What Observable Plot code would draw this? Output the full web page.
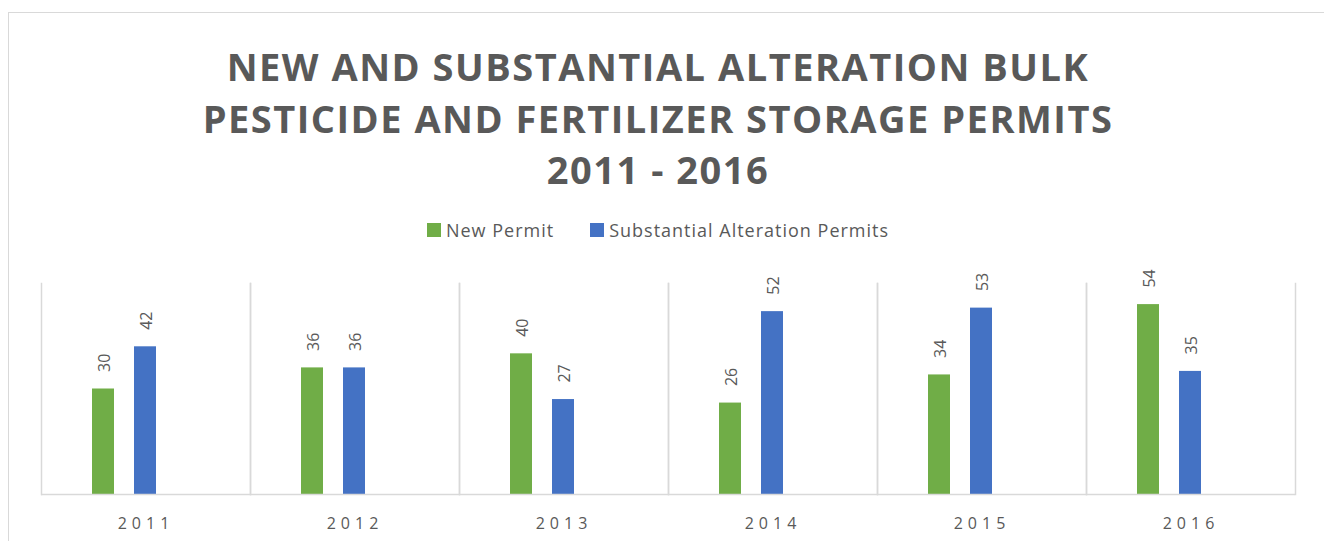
<!DOCTYPE html>
<html>
<head>
<meta charset="utf-8">
<script src="https://cdn.jsdelivr.net/npm/d3@7"></script>
<script src="https://cdn.jsdelivr.net/npm/@observablehq/plot@0.6"></script>
<style>
  html, body { margin: 0; padding: 0; background: #fff; overflow: hidden; width: 1324px; height: 541px; }
  body { position: relative; font-family: "Open Sans", sans-serif; color: #595959; }
  #border { position: absolute; left: 8px; top: 12px; width: 2000px; height: 1000px;
            border-top: 1px solid #d9d9d9; border-left: 1px solid #d9d9d9; }
  #title { position: absolute; left: 0; top: 41px; width: 1316px; text-align: center;
           font-weight: 700; font-size: 38px; line-height: 51.5px; letter-spacing: 1.5px; color: #595959; }
  #legend { position: absolute; left: 0; top: 218px; width: 1316px; display: flex; justify-content: center;
            font-size: 18px; line-height: 24px; letter-spacing: 1px; color: #595959; }
  .item { display: flex; align-items: center; margin: 0 18px; }
  .sw { width: 14px; height: 14px; margin-right: 5px; }
  #chart { position: absolute; left: 0; top: 250px; }
</style>
</head>
<body>
<div id="border"></div>
<div id="title"></div>
<div id="legend"></div>
<div id="chart"></div>
<script>
const titleLines = ["NEW AND SUBSTANTIAL ALTERATION BULK", "PESTICIDE AND FERTILIZER STORAGE PERMITS", "2011 - 2016"];
const years = ["2011", "2012", "2013", "2014", "2015", "2016"];
const seriesNames = ["New Permit", "Substantial Alteration Permits"];
const newPermit = [30, 36, 40, 26, 34, 54];
const substantialAlteration = [42, 36, 27, 52, 53, 35];
const seriesColors = ["#70ad47", "#4472c4"];

document.getElementById("title").innerHTML = titleLines.join("<br>");
const legend = document.getElementById("legend");
seriesNames.forEach((s, i) => {
  const it = document.createElement("div");
  it.className = "item";
  it.innerHTML = `<span class="sw" style="background:${seriesColors[i]}"></span><span>${s}</span>`;
  legend.appendChild(it);
});

const rows = [];
years.forEach((y, i) => {
  rows.push({year: y, series: seriesNames[0], value: newPermit[i]});
  rows.push({year: y, series: seriesNames[1], value: substantialAlteration[i]});
});

const grid = "#d9d9d9";
const svg = Plot.plot({
  width: 1324,
  height: 291,
  marginLeft: 38,
  marginRight: 27,
  marginTop: 33,
  marginBottom: 47,
  style: {fontFamily: "Open Sans", color: "#595959", background: "transparent"},
  fx: {domain: years, padding: 0, label: null},
  x: {domain: [...seriesNames, "(gap)"], paddingInner: 0.465, paddingOuter: 1.174, axis: null},
  y: {domain: [0, 60], axis: null},
  color: {domain: seriesNames, range: seriesColors},
  marks: [
    Plot.frame({anchor: "left", stroke: grid, strokeWidth: 1.5}),
    Plot.frame({anchor: "right", stroke: grid, strokeWidth: 1.5}),
    Plot.barY(rows, {fx: "year", x: "series", y: "value", fill: "series"}),
    Plot.ruleY([0], {stroke: grid, strokeWidth: 1.5}),
    Plot.text(rows, {fx: "year", x: "series", y: "value", text: d => String(d.value),
      rotate: -90, textAnchor: "start", lineAnchor: "middle", dy: -17, dx: 1,
      fontSize: 16, fill: "#595959"}),
    Plot.axisFx({anchor: "bottom", tickSize: 0, tickPadding: 23, fontSize: 16, label: null, fill: "#595959"})
  ]
});
d3.select(svg).selectAll('g[aria-label^="fx-axis"] text').style("letter-spacing", "5px");
document.getElementById("chart").appendChild(svg);
</script>
</body>
</html>
